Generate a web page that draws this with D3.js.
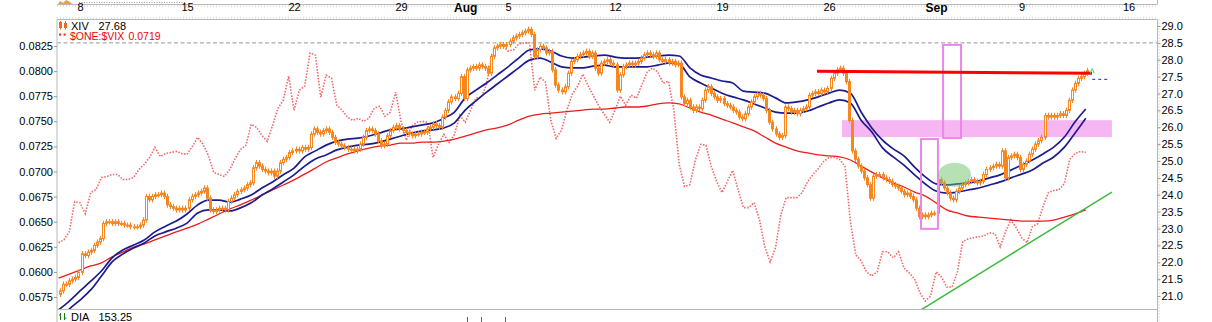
<!DOCTYPE html>
<html><head><meta charset="utf-8">
<script src="https://cdnjs.cloudflare.com/ajax/libs/d3/7.8.5/d3.min.js"></script>
<style>
html,body{margin:0;padding:0;background:#fff;}
svg{display:block;}
text{font-family:'Liberation Sans',Arial,sans-serif;}
</style></head><body>
<svg id="c" width="1212" height="322"></svg>
<script>
// ---------------- DATA ----------------
const tradingDays = ["Jul 5","Jul 8","Jul 9","Jul 10","Jul 11","Jul 12","Jul 15","Jul 16","Jul 17","Jul 18","Jul 19",
 "Jul 22","Jul 23","Jul 24","Jul 25","Jul 26","Jul 29","Jul 30","Jul 31","Aug 1","Aug 2","Aug 5","Aug 6","Aug 7","Aug 8","Aug 9",
 "Aug 12","Aug 13","Aug 14","Aug 15","Aug 16","Aug 19","Aug 20","Aug 21","Aug 22","Aug 23","Aug 26","Aug 27","Aug 28","Aug 29","Aug 30",
 "Sep 3","Sep 4","Sep 5","Sep 6","Sep 9","Sep 10","Sep 11","Sep 12"];
const dateTickPos    = [1, 6, 11, 16, 19, 21, 26, 31, 36, 41, 45, 50];
const dateTickLabels = ["8","15","22","29","Aug","5","12","19","26","Sep","9","16"];
const boldTicks = ["Aug","Sep"];
const priceTicks = [21.0,21.5,22.0,22.5,23.0,23.5,24.0,24.5,25.0,25.5,26.0,26.5,27.0,27.5,28.0,28.5,29.0];
const ratioTicks = [0.0575,0.0600,0.0625,0.0650,0.0675,0.0700,0.0725,0.0750,0.0775,0.0800,0.0825];
const barsPerDay = 7;
const xivFirstOpen = 21.05;
// XIV hourly closes, one row per trading day
const xivClose = [
 [21.15,21.35,21.35,21.45,21.5,21.55,21.7],
 [22.25,22.2,22.3,22.35,22.5,22.6,22.7],
 [23.15,23.2,23.2,23.15,23.2,23.15,23.15],
 [23.1,23.1,23.05,23.05,23.05,23.1,23.25],
 [23.95,23.85,23.95,24.0,24.0,24.05,23.95],
 [23.7,23.65,23.6,23.55,23.6,23.55,23.6],
 [23.85,23.95,24.0,24.05,24.1,24.2,23.9],
 [23.55,23.5,23.55,23.6,23.6,23.55,23.8],
 [23.9,24.0,24.1,24.15,24.2,24.3,24.35],
 [24.8,24.95,24.85,24.75,24.7,24.65,24.7],
 [24.55,24.7,24.95,25.05,25.1,25.25,25.3],
 [25.35,25.3,25.4,25.35,25.4,25.8,25.95],
 [25.85,25.8,25.9,25.95,25.85,25.7,25.55],
 [25.5,25.45,25.4,25.35,25.35,25.3,25.35],
 [25.5,25.7,25.9,25.95,25.9,25.8,25.6],
 [25.45,25.5,25.75,25.9,26.0,26.05,25.95],
 [25.9,25.85,25.8,25.75,25.8,25.8,25.85],
 [25.85,25.95,26.0,26.1,26.05,26.0,26.3],
 [26.5,26.75,26.9,26.85,27.0,27.5,26.85],
 [27.7,27.75,27.8,27.75,27.85,27.8,27.75],
 [27.6,28.1,28.35,28.4,28.45,28.4,28.45],
 [28.55,28.65,28.7,28.75,28.8,28.85,28.9],
 [28.75,28.1,28.3,28.4,28.35,28.2,28.25],
 [27.7,27.25,27.1,27.05,27.2,27.6,27.95],
 [28.0,28.1,28.15,28.2,28.25,28.1,28.2],
 [27.75,27.6,27.9,27.95,28.0,27.9,27.85],
 [27.1,27.55,27.8,27.85,27.9,27.85,27.9],
 [27.95,28.05,28.15,28.2,28.15,28.1,28.2],
 [28.0,27.95,28.0,27.9,27.95,27.85,27.9],
 [26.9,26.7,26.8,26.6,26.5,26.6,26.55],
 [26.8,27.1,27.2,27.0,26.9,26.8,26.85],
 [26.7,26.65,26.6,26.5,26.45,26.3,26.25],
 [26.4,26.6,26.75,26.9,27.0,26.95,26.85],
 [26.5,26.15,25.95,25.8,25.7,25.75,26.6],
 [26.55,26.45,26.5,26.4,26.5,26.55,26.6],
 [26.95,27.0,27.05,27.0,27.1,27.05,27.15],
 [27.45,27.6,27.7,27.75,27.6,27.35,26.2],
 [25.3,25.05,24.85,24.7,24.5,24.3,23.9],
 [24.55,24.6,24.6,24.5,24.45,24.4,24.3],
 [24.25,24.2,24.1,24.0,24.05,23.95,23.85],
 [23.6,23.35,23.4,23.35,23.4,23.45,23.45],
 [24.45,24.35,24.2,24.05,23.9,23.85,24.1],
 [24.2,24.3,24.35,24.4,24.45,24.4,24.35],
 [24.4,24.6,24.75,24.8,24.85,24.9,24.85],
 [25.3,24.5,25.1,25.15,25.2,25.1,24.75],
 [24.9,25.0,25.2,25.35,25.5,25.6,25.7],
 [26.35,26.3,26.35,26.3,26.35,26.4,26.35],
 [26.5,26.8,27.1,27.3,27.45,27.5,27.6],
 [27.68]
];
// moving-average envelope and long MA, sampled every half trading day
const envUpper = [20.59,20.85,21.15,21.44,21.74,22.13,22.36,22.51,22.66,22.90,
 23.07,23.22,23.43,23.70,23.84,23.84,23.78,23.87,23.99,24.20,
 24.38,24.59,24.79,25.12,25.30,25.47,25.59,25.65,25.68,25.74,
 25.83,25.92,25.95,26.01,26.07,26.13,26.27,26.45,26.87,27.10,
 27.31,27.55,27.79,28.05,28.29,28.32,28.26,28.11,28.05,28.08,
 28.11,28.14,28.08,28.05,28.05,28.08,28.11,28.14,28.11,27.76,
 27.55,27.46,27.37,27.31,27.07,27.04,27.01,26.87,26.72,26.75,
 26.81,26.90,27.01,27.10,27.01,26.45,25.98,25.62,25.36,25.15,
 24.82,24.53,24.32,24.29,24.32,24.35,24.41,24.50,24.59,24.73,
 24.88,25.03,25.21,25.41,25.71,26.16,26.54];
const envLower = [20.23,20.61,20.88,21.18,21.59,22.01,22.24,22.42,22.57,22.78,
 22.90,23.01,23.16,23.46,23.55,23.55,23.52,23.61,23.76,23.99,
 24.17,24.38,24.59,24.85,25.06,25.18,25.33,25.41,25.47,25.50,
 25.56,25.65,25.74,25.83,25.89,25.92,25.98,26.13,26.51,26.78,
 27.04,27.28,27.52,27.76,27.99,28.05,27.93,27.79,27.76,27.76,
 27.81,27.84,27.79,27.79,27.79,27.79,27.84,27.90,27.87,27.49,
 27.31,27.16,27.01,26.90,26.81,26.69,26.57,26.45,26.42,26.42,
 26.48,26.60,26.72,26.81,26.72,26.21,25.86,25.39,25.12,24.88,
 24.59,24.32,24.11,24.05,24.08,24.14,24.20,24.29,24.38,24.50,
 24.61,24.73,24.94,25.12,25.41,25.83,26.27];
const maLong = [21.53,21.65,21.77,21.89,21.98,22.16,22.30,22.45,22.54,22.66,
 22.78,22.90,23.01,23.13,23.28,23.43,23.58,23.70,23.84,23.99,
 24.14,24.29,24.44,24.61,24.79,24.97,25.09,25.21,25.30,25.38,
 25.44,25.47,25.53,25.53,25.56,25.56,25.59,25.65,25.74,25.83,
 25.92,25.98,26.07,26.21,26.33,26.39,26.42,26.45,26.48,26.51,
 26.54,26.54,26.57,26.60,26.60,26.63,26.69,26.72,26.69,26.57,
 26.45,26.36,26.24,26.13,26.01,25.89,25.71,25.53,25.41,25.30,
 25.24,25.18,25.15,25.12,25.03,24.85,24.67,24.50,24.35,24.23,
 24.08,23.96,23.76,23.55,23.46,23.37,23.34,23.31,23.28,23.25,
 23.22,23.22,23.22,23.25,23.34,23.43,23.55];
// $ONE:$VIX, sampled every quarter trading day
const vixRatio = [.0629,.0632,.0640,.0670,.0669,.0658,.0679,.0682,.0694,.0695,
 .0697,.0697,.0692,.0692,.0694,.0702,.0707,.0714,.0724,.0715,
 .0718,.0719,.0720,.0718,.0717,.0725,.0734,.0727,.0716,.0699,
 .0697,.0695,.0702,.0713,.0722,.0726,.0747,.0744,.0736,.0730,
 .0746,.0763,.0771,.0795,.0761,.0781,.0785,.0818,.0816,.0774,
 .0796,.0793,.0766,.0761,.0754,.0751,.0753,.0750,.0753,.0763,
 .0765,.0755,.0759,.0779,.0750,.0731,.0745,.0749,.0750,.0749,
 .0714,.0727,.0737,.0729,.0737,.0756,.0749,.0761,.0773,.0774,
 .0787,.0816,.0825,.0826,.0820,.0821,.0827,.0828,.0828,.0781,
 .0794,.0789,.0751,.0733,.0741,.0761,.0777,.0785,.0797,.0785,
 .0775,.0765,.0757,.0749,.0761,.0775,.0766,.0776,.0773,.0786,
 .0799,.0803,.0799,.0788,.0790,.0761,.0707,.0685,.0687,.0711,
 .0727,.0726,.0705,.0690,.0679,.0690,.0701,.0682,.0664,.0664,
 .0669,.0652,.0625,.0610,.0624,.0657,.0674,.0674,.0674,.0679,
 .0690,.0697,.0703,.0710,.0714,.0714,.0712,.0705,.0650,.0617,
 .0611,.0600,.0596,.0600,.0620,.0620,.0614,.0620,.0604,.0599,
 .0593,.0579,.0571,.0576,.0600,.0595,.0585,.0585,.0600,.0630,
 .0633,.0634,.0635,.0636,.0639,.0638,.0625,.0640,.0652,.0644,
 .0634,.0629,.0645,.0648,.0665,.0679,.0681,.0682,.0688,.0712,
 .0718,.0720,.0719];
// annotations (trading-day position, price)
const resistanceLine = [[35.44, 27.66], [48.29, 27.60]];
const supportBand = {t0: 36.61, t1: 49.22, p0: 26.21, p1: 25.71};
const boxes = [{t0: 41.33, t1: 42.17, p0: 28.44, p1: 25.68}, {t0: 40.30, t1: 41.09, p0: 25.65, p1: 22.99}];
const ellipseMark = {t: 41.87, p: 24.59, dt: 0.77, dp: 0.356};
const trendLine = [[40.30, 20.59], [49.22, 24.08]];
const lastMarker = [[48.3, 27.42], [49.1, 27.42]];
const refLevel = 28.5;
const legendXIV = "27.68", legendRatio = "0.0719", legendDIA = "153.25";

// ---------------- DRAW ----------------
const svg = d3.select("#c");
const L = 57, R = 1157, T = 19.5, B = 309.5;
const x = d3.scaleLinear().domain([-0.075, 51.327]).range([L, R]);
const y = d3.scaleLinear().domain([21, 29]).range([296, 26]);
const yv = d3.scaleLinear().domain([0.0575, 0.0825]).range([297, 46]);
const orange = "#f7861f";

// leftover of upper panel
svg.append("path").attr("d","M58,4 L60,1 L63,3 L66,0 L70,2 L72,4 Z").attr("fill","#e8a040");
svg.append("line").attr("x1",79).attr("x2",185).attr("y1",2.5).attr("y2",2.5)
  .attr("stroke","#999").attr("stroke-dasharray","1,1.5");

// date strip
svg.append("line").attr("x1",L).attr("x2",R).attr("y1",4.5).attr("y2",4.5).attr("stroke","#b8b8b8");
svg.append("line").attr("x1",L).attr("x2",R).attr("y1",6).attr("y2",6).attr("stroke","#c8c8c8").attr("stroke-dasharray","1,2");
svg.append("line").attr("x1",L).attr("x2",R).attr("y1",18).attr("y2",18).attr("stroke","#c8c8c8").attr("stroke-dasharray","1,2");
svg.append("line").attr("x1",R+0.5).attr("x2",R+0.5).attr("y1",0).attr("y2",4.5).attr("stroke","#b8b8b8");
const dateAxis = d3.axisBottom(x).tickValues(dateTickPos).tickSize(0)
  .tickFormat((d,i)=>dateTickLabels[i]);
const ga = svg.append("g").attr("transform","translate(0,5)").call(dateAxis);
ga.select(".domain").remove();
ga.selectAll("text").attr("dy","0.3em").attr("y",3).attr("fill","#000")
  .attr("font-weight",(d,i)=>boldTicks.includes(dateTickLabels[i])?"bold":"normal")
  .attr("font-size",(d,i)=>boldTicks.includes(dateTickLabels[i])?"12px":"11px");

// panel frame
svg.append("line").attr("x1",L).attr("x2",R).attr("y1",T).attr("y2",T).attr("stroke","#b8b8b8");
svg.append("line").attr("x1",L).attr("x2",R).attr("y1",B).attr("y2",B).attr("stroke","#b8b8b8");
svg.append("line").attr("x1",L).attr("x2",L).attr("y1",T).attr("y2",322).attr("stroke","#b8b8b8");
svg.append("line").attr("x1",R+0.5).attr("x2",R+0.5).attr("y1",T).attr("y2",322).attr("stroke","#b8b8b8");
svg.append("line").attr("x1",R+2).attr("x2",R+2).attr("y1",T).attr("y2",322).attr("stroke","#bbb").attr("stroke-dasharray","1,2");

// axes
const ra = svg.append("g").attr("transform",`translate(${R+0.5},0)`)
  .call(d3.axisRight(y).tickValues(priceTicks).tickFormat(d3.format(".1f")).tickSize(3).tickPadding(1));
ra.select(".domain").remove();
ra.selectAll("line").attr("stroke","#999");
ra.selectAll("text").attr("font-size","11px").attr("fill","#000");
const la = svg.append("g").attr("transform",`translate(${L},0)`)
  .call(d3.axisLeft(yv).tickValues(ratioTicks).tickFormat(d3.format(".4f")).tickSize(3).tickPadding(1));
la.select(".domain").remove();
la.selectAll("line").attr("stroke","#999");
la.selectAll("text").attr("font-size","11px").attr("fill","#000");

svg.append("defs").append("clipPath").attr("id","clip").append("rect")
  .attr("x",L+0.5).attr("y",T+0.5).attr("width",R-L-0.5).attr("height",B-T-1);
const g = svg.append("g").attr("clip-path","url(#clip)");

// reference dashed level
g.append("line").attr("x1",L).attr("x2",R).attr("y1",y(refLevel)).attr("y2",y(refLevel))
  .attr("stroke","#999").attr("stroke-dasharray","4,2.5");

// support band
g.append("rect").attr("x",x(supportBand.t0)).attr("width",x(supportBand.t1)-x(supportBand.t0))
  .attr("y",y(supportBand.p0)).attr("height",y(supportBand.p1)-y(supportBand.p0)).attr("fill","#f5b6f2");

// $ONE:$VIX dotted line
const tv = i => i*0.25;
g.append("path").datum(vixRatio)
  .attr("d", d3.line().x((d,i)=>x(tv(i))).y(d=>yv(d)))
  .attr("fill","none").attr("stroke","#f04040").attr("stroke-width",1.6)
  .attr("stroke-dasharray","1.5,1.5").attr("opacity",0.8);

// long MA + envelope
const th = i => i*0.5;
const smooth = d3.line().x((d,i)=>x(th(i))).y(d=>y(d)).curve(d3.curveMonotoneX);
g.append("path").datum(maLong).attr("d",smooth).attr("fill","none").attr("stroke","#ee1c1c").attr("stroke-width",1.3);
[envUpper, envLower].forEach(arr=>{
  g.append("path").datum(arr).attr("d",smooth).attr("fill","none").attr("stroke","#1c1c8c").attr("stroke-width",1.7);
});

// XIV candles
const bars = [];
let prev = xivFirstOpen;
xivClose.forEach((day,d)=>day.forEach((c,k)=>{
  bars.push({t: d + (k+0.5)/barsPerDay, o: prev, c: c});
  prev = c;
}));
const wick = 0.08;
const cg = g.append("g");
bars.forEach(b=>{
  const cx = Math.round(x(b.t)) + 0.5;
  const hi = Math.max(b.o,b.c), lo = Math.min(b.o,b.c);
  cg.append("line").attr("x1",cx).attr("x2",cx).attr("y1",y(hi+wick)).attr("y2",y(lo-wick))
    .attr("stroke",orange).attr("stroke-width",1);
  const h = Math.max(1, y(lo)-y(hi));
  cg.append("rect").attr("x",cx-1).attr("width",2).attr("y",y(hi)).attr("height",h)
    .attr("fill", b.c>=b.o ? "#fff" : orange).attr("stroke",orange).attr("stroke-width",1);
});

// annotations on top
boxes.forEach(bx=>{
  g.append("rect").attr("x",x(bx.t0)).attr("width",x(bx.t1)-x(bx.t0))
    .attr("y",y(bx.p0)).attr("height",y(bx.p1)-y(bx.p0))
    .attr("fill","none").attr("stroke","#ec86ea").attr("stroke-width",2);
});
g.append("ellipse").attr("cx",x(ellipseMark.t)).attr("cy",y(ellipseMark.p))
  .attr("rx",x(ellipseMark.t+ellipseMark.dt)-x(ellipseMark.t))
  .attr("ry",y(ellipseMark.p-ellipseMark.dp)-y(ellipseMark.p))
  .attr("fill","#6cc46c").attr("opacity",0.5);
g.append("path").datum(trendLine).attr("d",d3.line().x(d=>x(d[0])).y(d=>y(d[1])))
  .attr("stroke","#3cbb3c").attr("stroke-width",1.5).attr("fill","none");
g.append("path").datum(resistanceLine).attr("d",d3.line().x(d=>x(d[0])).y(d=>y(d[1])))
  .attr("stroke","#ff0000").attr("stroke-width",3).attr("fill","none");
g.append("path").datum(lastMarker).attr("d",d3.line().x(d=>x(d[0])).y(d=>y(d[1])))
  .attr("stroke","#2020e0").attr("stroke-width",1).attr("stroke-dasharray","3,3").attr("fill","none");
g.append("path").attr("d",`M${x(48.2)},${y(27.68)+3} L${x(48.3)},${y(27.68)-2} L${x(48.4)},${y(27.68)+3}`)
  .attr("stroke","#5c5").attr("fill","none").attr("stroke-width",1);

// legend
const lg = svg.append("g");
lg.append("rect").attr("x",59.5).attr("y",22.5).attr("width",2).attr("height",5).attr("fill","none").attr("stroke","#f26522");
lg.append("rect").attr("x",64.5).attr("y",23.5).attr("width",2).attr("height",4).attr("fill","#f26522").attr("stroke","#f26522");
lg.append("line").attr("x1",60.5).attr("x2",60.5).attr("y1",21).attr("y2",29.5).attr("stroke","#f26522");
lg.append("line").attr("x1",65.5).attr("x2",65.5).attr("y1",21).attr("y2",29.5).attr("stroke","#f26522");
lg.append("text").attr("x",71).attr("y",29.5).attr("font-family","'DejaVu Sans Mono',monospace").attr("font-size","11px").text("XIV");
lg.append("text").attr("x",98.5).attr("y",29.5).attr("font-family","'DejaVu Sans Mono',monospace").attr("font-size","11px").text(legendXIV);
lg.append("rect").attr("x",59).attr("y",33.5).attr("width",2.2).attr("height",2.2).attr("fill","#f03030");
lg.append("rect").attr("x",63.5).attr("y",33.5).attr("width",2.2).attr("height",2.2).attr("fill","#f03030");
lg.append("text").attr("x",70).attr("y",39.5).attr("font-size","10.5px").attr("fill","#f00000").text("$ONE:$VIX");
lg.append("text").attr("x",128.5).attr("y",39.5).attr("font-size","10.5px").attr("fill","#f00000").text(legendRatio);

// DIA panel header
const dg = svg.append("g");
dg.append("line").attr("x1",60.5).attr("x2",60.5).attr("y1",313).attr("y2",320).attr("stroke","#1a7a1a");
dg.append("line").attr("x1",64.5).attr("x2",64.5).attr("y1",313).attr("y2",320).attr("stroke","#1a7a1a");
dg.append("line").attr("x1",59).attr("x2",60.5).attr("y1",315).attr("y2",315).attr("stroke","#1a7a1a");
dg.append("line").attr("x1",64.5).attr("x2",66.5).attr("y1",318).attr("y2",318).attr("stroke","#1a7a1a");
dg.append("text").attr("x",71).attr("y",320.5).attr("font-family","'DejaVu Sans Mono',monospace").attr("font-size","11px").text("DIA");
dg.append("text").attr("x",98.5).attr("y",320.5).attr("font-family","'DejaVu Sans Mono',monospace").attr("font-size","11px").text(legendDIA);
[467,481,505].forEach(px=>dg.append("line").attr("x1",px+0.5).attr("x2",px+0.5).attr("y1",317).attr("y2",322).attr("stroke","#2a8a2a"));
</script>
</body></html>
